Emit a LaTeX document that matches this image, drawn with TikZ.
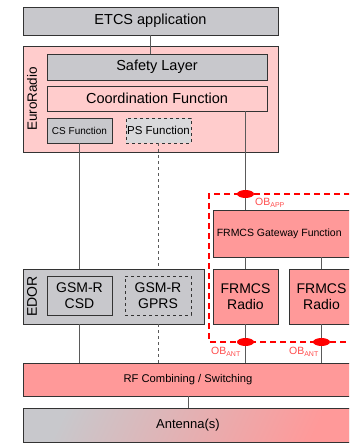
\documentclass[tikz,border=0pt]{standalone}
\usepackage{fontspec}
\setmainfont{Liberation Sans}
\usetikzlibrary{positioning,calc,fit,backgrounds,shapes}
\definecolor{boxgray}{RGB}{200,200,204}
\definecolor{radiopink}{RGB}{255,204,204}
\definecolor{frmcsred}{RGB}{255,153,153}
\definecolor{obred}{RGB}{255,0,0}
\definecolor{linegray}{RGB}{90,90,90}
\def\obmark{ellipse (8.5 and 4)}

\tikzset{
  layerbox/.style={draw=black!80,line width=0.9pt,inner sep=0pt,fill=boxgray},
  redbox/.style={layerbox,fill=frmcsred},
  dashbox/.style={layerbox,dashed},
  wire/.style={linegray,line width=0.8pt},
  obline/.style={obred,dashed,line width=1.4pt,dash pattern=on 6pt off 4pt},
  oblabel/.style={text=obred!70,font=\fontsize{10.5}{12}\selectfont,inner sep=0pt}
}

\begin{document}
\begin{tikzpicture}[x=1pt,y=-1pt]
  \clip (0,0) rectangle (349,443);
  \useasboundingbox (0,0) rectangle (349,443);

  % upper part
  \node[layerbox,minimum width=255,minimum height=28,font=\fontsize{14.5}{16}\selectfont] (ETCS) at (150.5,21) {ETCS application};
  \node[layerbox,fill=radiopink,minimum width=255,minimum height=106] (ER) at (150.5,99) {};
  \node[rotate=90,font=\fontsize{13.5}{15}\selectfont] (ER-text) at (32,99) {EuroRadio};
  \node[layerbox,minimum width=220,minimum height=26,font=\fontsize{14.5}{16}\selectfont] (SL) at (157,67) {Safety Layer};
  \node[layerbox,fill=radiopink,minimum width=220,minimum height=25,font=\fontsize{14.5}{16}\selectfont] (CF) at (157,98.5) {Coordination Function};
  \node[layerbox,minimum width=65,minimum height=25,font=\fontsize{10}{11}\selectfont] (CS) at (79.5,130.5) {CS Function};
  \node[dashbox,fill=boxgray!70,minimum width=65,minimum height=25,font=\fontsize{11.5}{13}\selectfont] (PS) at (158.5,130.5) {PS Function};

  % EDOR
  \node[layerbox,minimum width=181,minimum height=55] (EDOR) at (113.5,296.5) {};
  \node[rotate=90,font=\fontsize{14}{16}\selectfont] (EDOR-text) at (32,296.5) {EDOR};
  \node[layerbox,align=center,minimum width=65,minimum height=39,font=\fontsize{14}{16}\selectfont] (CSD) at (79.5,295.5) {GSM-R\\CSD};
  \node[dashbox,align=center,minimum width=66,minimum height=39,font=\fontsize{14}{16}\selectfont] (GPRS) at (158,295.5) {GSM-R\\GPRS};

  % FRMCS part
  \node[redbox,minimum width=150,minimum height=47] (GW) at (288,233.5) {};
  \node[anchor=west,inner sep=0pt,font=\fontsize{10.5}{12}\selectfont] (GW-text) at ($ (GW.west) + (4,0) $) {FRMCS Gateway Function};
  \node[redbox,align=center,minimum width=65,minimum height=55,font=\fontsize{14}{16}\selectfont] (R1) at (245.5,296.5) {FRMCS\\Radio};
  \node[redbox,align=center,minimum width=65,minimum height=55,font=\fontsize{14}{16}\selectfont] (R2) at (321.5,296.5) {FRMCS\\Radio};

  % bottom
  \node[redbox,minimum width=330,minimum height=33,font=\fontsize{11.2}{13}\selectfont] (RF) at (188,379.5) {RF Combining / Switching};
  \node[layerbox,shading=axis,left color=boxgray,right color=frmcsred,shading angle=65,minimum width=330,minimum height=34,font=\fontsize{13}{15}\selectfont] (ANT) at (188,425) {Antenna(s)};

  % connectors
  \draw[wire] (ETCS.south) -- (ETCS.south |- SL.north);
  \draw[wire] (CS.south) -- (CS.south |- EDOR.north);
  \draw[wire,dashed] (PS.south) -- (PS.south |- EDOR.north);
  \draw[wire] (CF.south -| R1.north) -- (GW.north -| R1.north);
  \draw[wire] (GW.south -| R1.north) -- (R1.north);
  \draw[wire] (GW.south -| R2.north) -- (R2.north);
  \draw[wire] (CSD.south |- EDOR.south) -- (CSD.south |- RF.north);
  \draw[wire,dashed] (GPRS.south |- EDOR.south) -- (GPRS.south |- RF.north);
  \draw[wire] (R1.south) -- (R1.south |- RF.north);
  \draw[wire] (R2.south) -- (R2.south |- RF.north);
  \draw[wire] (RF.south -| ANT.north) -- (ANT.north);

  % onboard boundary
  \coordinate (OBtl) at (209,194);
  \coordinate (OBbl) at (209,342);
  \draw[obline] (360,194) -- (OBtl) -- (OBbl) -- (360,342);
  \fill[obred] (OBtl -| R1.north) \obmark;
  \fill[obred] (OBbl -| R1.north) \obmark;
  \fill[obred] (OBbl -| R2.north) \obmark;
  \node[oblabel,anchor=west] (OBAPP) at (255,203) {OB\textsubscript{\fontsize{7}{8}\selectfont APP}};
  \node[oblabel,anchor=east] (OBANT1) at (241,352) {OB\textsubscript{\fontsize{7}{8}\selectfont ANT}};
  \node[oblabel,anchor=east] (OBANT2) at (319,352) {OB\textsubscript{\fontsize{7}{8}\selectfont ANT}};
\end{tikzpicture}
\end{document}
